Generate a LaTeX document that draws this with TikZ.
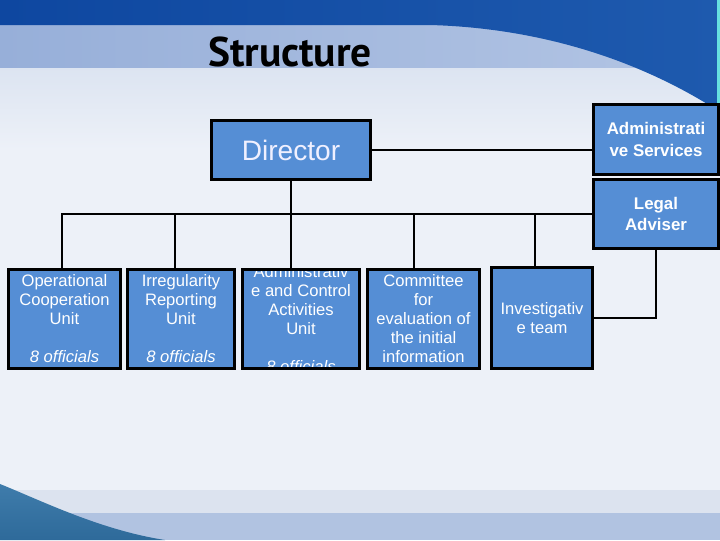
\documentclass[tikz,border=0pt]{standalone}
\usepackage{fontspec}
\setmainfont{Liberation Sans}
\newfontfamily\titlefont{PT Sans}
\usetikzlibrary{positioning}
\definecolor{boxblue}{HTML}{558ED5}
\definecolor{pagebg}{HTML}{EDF1F8}
\definecolor{pagepale}{HTML}{DCE4F1}
\definecolor{bandlight}{HTML}{97AFD9}
\definecolor{bandright}{HTML}{B3C5E4}
\definecolor{banddark}{HTML}{0E47A0}
\definecolor{bandmid}{HTML}{1E5AAE}
\definecolor{footpale}{HTML}{DCE3EF}
\definecolor{footblue}{HTML}{B1C3E1}
\definecolor{swooshtop}{HTML}{3F7CAB}
\definecolor{swooshlow}{HTML}{2E6A9A}
\tikzset{
  box/.style={rectangle, draw=black, line width=2.3pt, fill=boxblue, text=white, align=center, inner sep=0pt, font=\fontsize{11.8}{13.5}\selectfont},
  headbox/.style={box, font=\bfseries\fontsize{12}{15}\selectfont},
  unit/.style={box, minimum height=2.475cm},
  link/.style={draw=black, line width=0.9pt}
}

\begin{document}
\begin{tikzpicture}[x=0.025cm, y=-0.025cm]
\useasboundingbox (0,0) rectangle (720,540);
\fill[pagebg] (0,0) rectangle (720,540);
\shade[top color=pagepale, bottom color=pagebg] (0,67) rectangle (720,150);
\shade[left color=bandlight, right color=bandright] (0,25) rectangle (720,67);
\shade[left color=banddark, right color=bandmid] (0,0) -- (720,0) -- (720,112) .. controls (640,60) and (540,28) .. (430,25) -- (0,25) -- cycle;
\fill[teal!40!cyan!60] (717,0) rectangle (720,108);
\fill[footpale] (0,490) rectangle (720,513);
\fill[footblue] (0,513) rectangle (720,540);
\shade[top color=swooshtop, bottom color=swooshlow] (0,484) .. controls (40,500) and (100,530) .. (165,540) -- (0,540) -- cycle;

\node[anchor=base] (title) at (290,66) {\titlefont\bfseries\fontsize{29.5}{32}\selectfont Structure};

\node[box, minimum width=3.975cm, minimum height=1.475cm, font=\fontsize{20}{24}\selectfont, text=white!94!blue] (director) at (291,150) {Director};
\node[headbox, minimum width=3.125cm, minimum height=1.75cm] (admsvc) at (656,139.5) {Administrati\\ve Services};
\node[headbox, minimum width=3.125cm, minimum height=1.725cm] (legal) at (656,214) {Legal\\Adviser};

\node[unit, minimum width=2.8cm] (opunit) at (64.5,319) {Operational\\Cooperation\\Unit\\[13.5pt]\textit{8 officials}};
\node[unit, minimum width=2.675cm] (irreg) at (181,319) {Irregularity\\Reporting\\Unit\\[13.5pt]\textit{8 officials}};
\node[unit, minimum width=2.925cm, path picture={
  \node[text=white, align=center, font=\fontsize{11.8}{13.5}\selectfont] (adminunittext) at (path picture bounding box.center)
  {Administrativ\\e and Control\\Activities\\Unit\\[13.5pt]\textit{8 officials}};}] (adminunit) at (301,319) {};
\node[unit, minimum width=2.8cm] (committee) at (423.5,319) {Committee\\for\\evaluation of\\the initial\\information};
\node[unit, minimum width=2.525cm, minimum height=2.525cm] (invteam) at (542,318) {Investigativ\\e team};

\draw[link] (director.east) -- (director.east -| admsvc.west);
\draw[link] (director.south) -- (director.south |- adminunit.north);
\foreach \n/\dx in {opunit/-2.5, irreg/-6, committee/-9.5, invteam/-7}
  \draw[link] ([xshift=\dx*0.025cm]\n.north) |- (legal.west);
\draw[link] (legal.south) |- (invteam.east);
\end{tikzpicture}
\end{document}
